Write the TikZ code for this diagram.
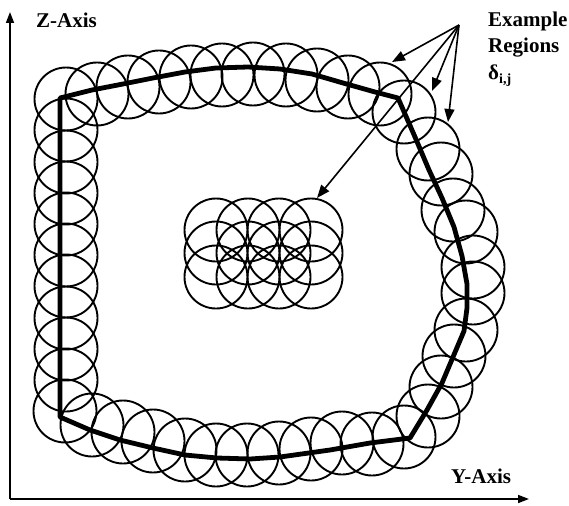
\documentclass[tikz,border=0pt]{standalone}
\usepackage{fontspec}
\setmainfont{Liberation Serif}
\usetikzlibrary{arrows.meta}
\begin{document}
\begin{tikzpicture}[x=1pt,y=-1pt,
  region/.style={draw, circle, line width=1.9pt, minimum size=63pt, inner sep=0pt, outer sep=0pt},
  contour/.style={line width=4.8pt, line join=round, line cap=round},
  axisline/.style={line width=1.6pt, -{Triangle[length=11pt,width=8pt]}},
  pointer/.style={line width=1.6pt, -{Triangle[length=13pt,width=10pt]}},
  lbl/.style={font=\fontsize{21}{25}\selectfont\bfseries, inner sep=0pt, anchor=base west}]
\useasboundingbox (0,0) rectangle (569,505);
% axes
\coordinate (o) at (10,499);
\coordinate (ztip) at (10,12);
\coordinate (ytip) at (529,499);
\draw[axisline] (o) -- (ztip);
\draw[axisline] (o) -- (ytip);
\node[lbl] (zl) at (36,28) {Z-Axis};
\node[lbl] (yl) at (451,483) {Y-Axis};
% ring of regions
\foreach \x/\y [count=\i] in {
  66/99, 97/94, 128/87, 159/82, 191/77, 222/75, 253/74, 286/75, 317/80, 348/87, 380/94,
  404/112, 428/149, 441/174, 453/210, 466/232, 473/267, 473/293, 466/330, 454/356, 441/387, 428/416, 404/437,
  372/444, 342/443, 311/449, 279/453, 247/455, 216/455, 185/450, 153/441, 123/432, 92/425, 65/411,
  66/380, 66/349, 66/318, 66/286, 66/255, 66/224, 66/193, 66/162, 66/130}
  \node[region] (r\i) at (\x,\y) {};
% inner grid
\foreach \x [count=\i] in {216,248,279,311}
  \foreach \y [count=\j] in {230,253,277}
    \node[region] (g\i\j) at (\x,\y) {};
% thick contour
\draw[contour] (60,98) -- (92,90) -- (123,84) -- (153,78) -- (185,72) -- (216,68) -- (248,67)
  -- (280,69) -- (312,74) -- (343,83) -- (375,92) -- (398,98)
  -- (415,137) -- (429,170) -- (442,198) -- (454,227) -- (462,256) -- (467,284) -- (467,308)
  -- (464,331) -- (453,357) -- (442,383) -- (427,410) -- (410,438)
  -- (370,443) -- (330,450) -- (280,457) -- (250,459) -- (217,458) -- (185,455)
  -- (153,448) -- (120,440) -- (90,430) -- (60,417) -- cycle;
% labels and pointers
\node[lbl] (ex) at (488,27) {Example};
\node[lbl] (rg) at (488,53) {Regions};
\node[lbl] (dl) at (488,80) {δ\raisebox{-0.35ex}{\fontsize{14}{16}\selectfont i,j}};
\coordinate (src) at (459,25);
\coordinate (t1) at (392,62);
\coordinate (t2) at (432,91);
\coordinate (t3) at (448,122);
\coordinate (t4) at (317,198);
\draw[pointer] (src) -- (t1);
\draw[pointer] (src) -- (t2);
\draw[pointer] (src) -- (t3);
\draw[pointer] (src) -- (t4);
\end{tikzpicture}
\end{document}
